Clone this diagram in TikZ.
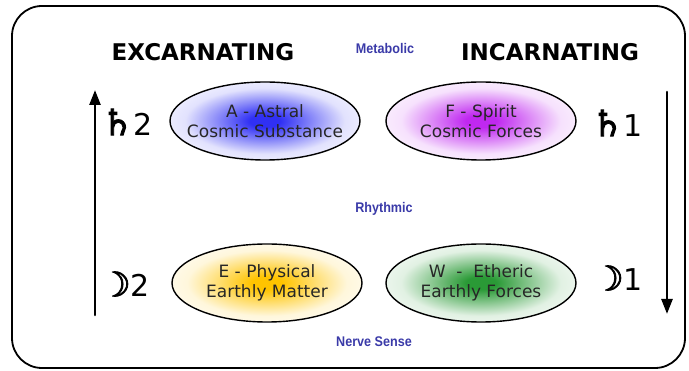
\documentclass[tikz,border=0pt]{standalone}
\usepackage{fontspec}
\setmainfont{DejaVu Sans}
\newfontfamily\zonafont{Liberation Sans}[FakeStretch=0.9]
\newfontfamily\signofont{DejaVu Sans}[FakeBold=2.5]
\usepackage{tikz}
\usetikzlibrary{arrows.meta,shapes.geometric}
\definecolor{azul}{HTML}{3030F4}
\definecolor{violeta}{HTML}{C028F0}
\definecolor{oro}{HTML}{FFC400}
\definecolor{verde}{HTML}{2A9A36}
\definecolor{tinta}{HTML}{3A3AA8}
\colorlet{centro}{azul}
\pgfdeclareradialshading[centro]{halo}{\pgfpoint{0bp}{0bp}}{color(0bp)=(centro);
  color(4bp)=(centro); color(21bp)=(centro!14); color(30bp)=(centro!4); color(50bp)=(white)}

\tikzset{
  fuerza/.style={ellipse,draw,line width=1.4pt,minimum width=190pt,minimum height=78pt,inner sep=0pt,
    /utils/exec={\colorlet{centro}{#1}},shading=halo},
  fuerzatexto/.style={align=center,text=black!85,font=\fontsize{17}{20}\selectfont},
  titulo/.style={font=\bfseries\fontsize{23}{23}\selectfont},
  zona/.style={text=tinta,font=\zonafont\bfseries\fontsize{14}{14}\selectfont},
  planeta/.style={font=\fontsize{30}{30}\selectfont,inner sep=0pt},
  flecha/.style={line width=2.6pt,-{Triangle[length=15pt,width=11pt]}}
}

\begin{document}
\begin{tikzpicture}[x=1pt,y=-1pt,line cap=round]
        \useasboundingbox (0,0) rectangle (689,371);
        \draw[line width=1.8pt,rounded corners=30pt] (12,6) rectangle (685,368);
        % headings
        \node[titulo] (exc) at (203,52) {EXCARNATING};
        \node[titulo] (inc) at (550,52) {INCARNATING};
        \node[zona] (metab) at (385,48) {Metabolic};
        \node[zona] (rhythm) at (384,209) {Rhythmic};
        \node[zona] (nerve) at (374,342) {Nerve Sense};
        % the four forces
        \node[fuerza=azul] (astral) at (265,121) {};
        \node[fuerzatexto] (astral-t) at (astral) {A - Astral\\Cosmic Substance};
        \node[fuerza=violeta] (spirit) at (481,121) {};
        \node[fuerzatexto] (spirit-t) at (spirit) {F - Spirit\\Cosmic Forces};
        \node[fuerza=oro] (physical) at (267,283) {};
        \node[fuerzatexto] (physical-t) at (physical) {E - Physical\\Earthly Matter};
        \node[fuerza=verde] (etheric) at (481,283) {};
        \node[fuerzatexto] (etheric-t) at (etheric) {W \ - \ Etheric\\Earthly Forces};
        % planets
        \node[planeta] (sat2) at (127,122) {{\signofont\fontsize{36}{36}\selectfont ♄}2};
        \node[planeta] (sat1) at (617,123) {{\signofont\fontsize{36}{36}\selectfont ♄}1};
        \node[planeta] (moon2) at (125,284) {{\signofont\fontsize{34}{34}\selectfont ☽}2};
        \node[planeta] (moon1) at (618,278) {{\signofont\fontsize{34}{34}\selectfont ☽}1};
        % directions
        \coordinate (exc-bot) at (95,315);
        \coordinate (exc-top) at (95,90);
        \coordinate (inc-top) at (667,92);
        \coordinate (inc-bot) at (667,314);
        \draw[flecha] (exc-bot) -- (exc-top);
        \draw[flecha] (inc-top) -- (inc-bot);
\end{tikzpicture}
\end{document}
